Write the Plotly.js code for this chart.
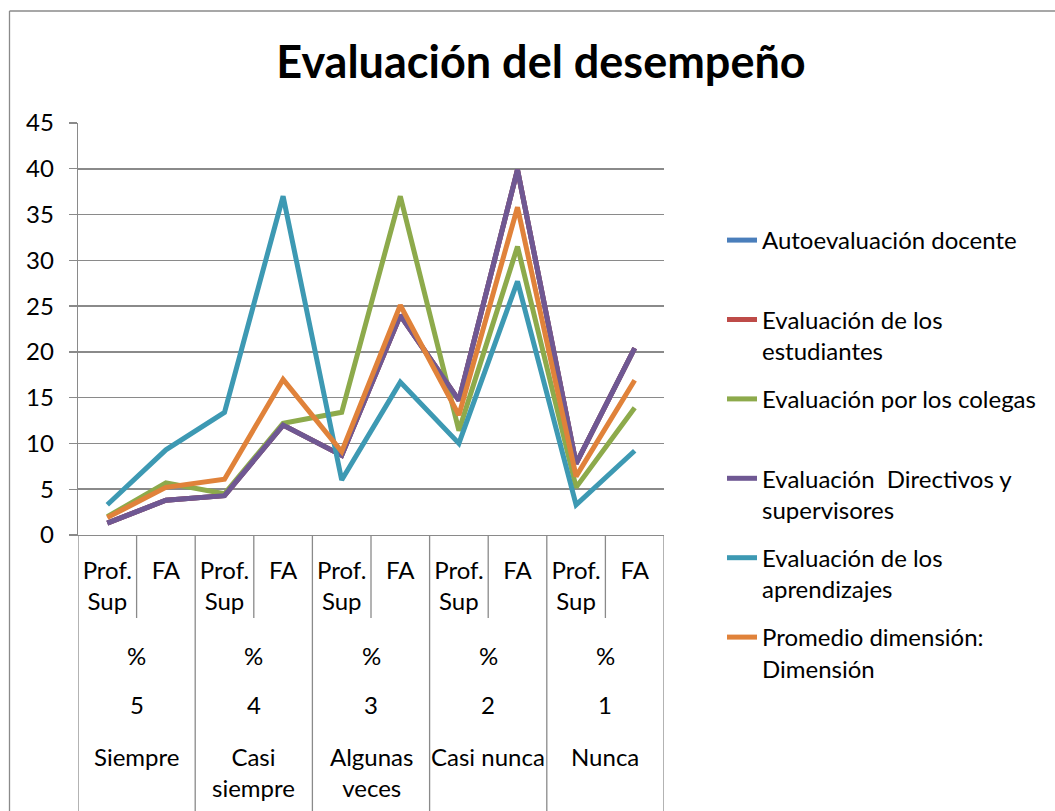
<!DOCTYPE html>
<html>
<head>
<meta charset="utf-8">
<script src="https://cdn.plot.ly/plotly-3.0.1.min.js"></script>
<style>
  html, body { margin: 0; padding: 0; background: #fff; }
  #chart { width: 1055px; height: 811px; }
</style>
</head>
<body>
<div id="chart"></div>
<script>
// ---- Data ----
const subLabels = ["Prof.<br>Sup", "FA", "Prof.<br>Sup", "FA", "Prof.<br>Sup", "FA", "Prof.<br>Sup", "FA", "Prof.<br>Sup", "FA"];
const groupPct = ["%", "%", "%", "%", "%"];
const groupNum = ["5", "4", "3", "2", "1"];
const groupNames = ["Siempre", "Casi<br>siempre", "Algunas<br>veces", "Casi nunca", "Nunca"];

const seriesNames = [
  "Autoevaluación docente",
  "Evaluación de los<br>estudiantes",
  "Evaluación por los colegas",
  "Evaluación  Directivos y<br>supervisores",
  "Evaluación de los<br>aprendizajes",
  "Promedio dimensión:<br>Dimensión"
];
const autoevaluacion = [1.3, 3.8, 4.3, 12.0, 8.7, 24.0, 14.7, 39.9, 7.8, 20.4];
const estudiantes    = [1.3, 3.8, 4.3, 12.0, 8.7, 24.0, 14.7, 39.9, 7.8, 20.4];
const colegas        = [2.0, 5.7, 4.5, 12.2, 13.4, 37.0, 11.4, 31.5, 5.2, 13.9];
const directivos     = [1.3, 3.8, 4.3, 12.0, 8.7, 24.0, 14.7, 39.9, 7.8, 20.4];
const aprendizajes   = [3.3, 9.3, 13.4, 37.0, 6.0, 16.7, 10.0, 27.7, 3.3, 9.2];
const promedio       = [1.9, 5.2, 6.1, 17.0, 9.1, 25.1, 13.1, 35.8, 6.4, 16.9];

const seriesValues = [autoevaluacion, estudiantes, colegas, directivos, aprendizajes, promedio];
const seriesColors = ["#4A7EBB", "#BE4B48", "#8DAA4B", "#6F5893", "#3D99B3", "#E0823A"];
const yTicks = [0, 5, 10, 15, 20, 25, 30, 35, 40, 45];

// ---- Build ----
const FONT = "Lato, 'Open Sans', sans-serif";
const FS = 24;
const xIdx = subLabels.map((_, i) => i);

const traces = seriesValues.map((vals, k) => {
  const nm = seriesNames[k].includes("<br>") ? seriesNames[k] : seriesNames[k] + "<br>\u00a0";
  return {
    type: "scatter",
    mode: "lines",
    x: xIdx,
    y: vals,
    name: nm,
    legendgroup: "g" + k,
    line: { color: seriesColors[k], width: 5 },
    hoverinfo: "skip"
  };
});

// pixel -> paper helpers (plot area: x 78..664, y 123..535)
const L = 78, R = 391, T = 123, B = 276, W = 1055, H = 811;
const pw = W - L - R, ph = H - T - B;
const px2paperX = px => (px - L) / pw;
const py2paperY = py => (H - B - py) / ph;

const shapes = [];
const nGroups = groupNames.length;
// group separators
for (let g = 0; g <= nGroups; g++) {
  shapes.push({
    type: "line", xref: "x", yref: "paper",
    x0: g * 2 - 0.5, x1: g * 2 - 0.5,
    y0: 0, y1: py2paperY(811),
    line: { color: "#8a8a8a", width: 1.3 }
  });
}
// inner separators
for (let g = 0; g < nGroups; g++) {
  shapes.push({
    type: "line", xref: "x", yref: "paper",
    x0: g * 2 + 0.5, x1: g * 2 + 0.5,
    y0: 0, y1: py2paperY(618),
    line: { color: "#8a8a8a", width: 1.3 }
  });
}
// outer chart border (left and top)
shapes.push({
  type: "line", xref: "paper", yref: "paper",
  x0: px2paperX(9.5), x1: px2paperX(9.5), y0: py2paperY(11), y1: py2paperY(811),
  line: { color: "#8a8a8a", width: 1.3 }
});
shapes.push({
  type: "line", xref: "paper", yref: "paper",
  x0: px2paperX(9.5), x1: px2paperX(1055), y0: py2paperY(11), y1: py2paperY(11),
  line: { color: "#8a8a8a", width: 1.3 }
});

const annotations = [];
const rowFont = { family: FONT, size: FS, color: "#000" };
for (let g = 0; g < nGroups; g++) {
  const xc = g * 2 + 0.5;
  annotations.push({ xref: "x", yref: "paper", x: xc, y: py2paperY(655), text: groupPct[g],
    showarrow: false, xanchor: "center", yanchor: "middle", font: rowFont });
  annotations.push({ xref: "x", yref: "paper", x: xc, y: py2paperY(704), text: groupNum[g],
    showarrow: false, xanchor: "center", yanchor: "middle", font: rowFont });
  annotations.push({ xref: "x", yref: "paper", x: xc, y: py2paperY(740), text: groupNames[g],
    showarrow: false, xanchor: "center", yanchor: "top", font: rowFont });
}

const layout = {
  width: W, height: H,
  margin: { l: L, r: R, t: T, b: B },
  paper_bgcolor: "#fff", plot_bgcolor: "#fff",
  font: { family: FONT, size: FS, color: "#000" },
  title: {
    text: "<b>Evaluación del desempeño</b>",
    font: { family: FONT, size: 45, color: "#000" },
    x: 541 / W, xanchor: "center", xref: "container",
    y: 1 - 62 / H, yanchor: "middle", yref: "container"
  },
  xaxis: {
    range: [-0.5, 9.5],
    tickmode: "array", tickvals: xIdx, ticktext: subLabels,
    ticks: "", showgrid: false, zeroline: false,
    showline: true, linecolor: "#8a8a8a", linewidth: 1.3,
    ticklabelstandoff: 14,
    tickfont: { family: FONT, size: FS, color: "#000" },
    fixedrange: true
  },
  yaxis: {
    range: [0, 45],
    tickmode: "array", tickvals: yTicks,
    ticks: "outside", ticklen: 8, tickcolor: "#8a8a8a", tickwidth: 1.3,
    showgrid: true, gridcolor: "#8a8a8a", gridwidth: 1.5,
    zeroline: false, showline: true, linecolor: "#8a8a8a", linewidth: 1.3,
    ticklabelstandoff: 10,
    tickfont: { family: FONT, size: FS, color: "#000" },
    fixedrange: true
  },
  legend: {
    xref: "container", yref: "container",
    x: 722 / W, xanchor: "left",
    y: 1 - 218 / H, yanchor: "top",
    valign: "top",
    tracegroupgap: 14,
    maxheight: 700,
    font: { family: FONT, size: FS, color: "#000" },
    bgcolor: "rgba(0,0,0,0)"
  },
  shapes: shapes,
  annotations: annotations,
  showlegend: true
};

Plotly.newPlot("chart", traces, layout, { displayModeBar: false, staticPlot: true });
</script>
</body>
</html>
